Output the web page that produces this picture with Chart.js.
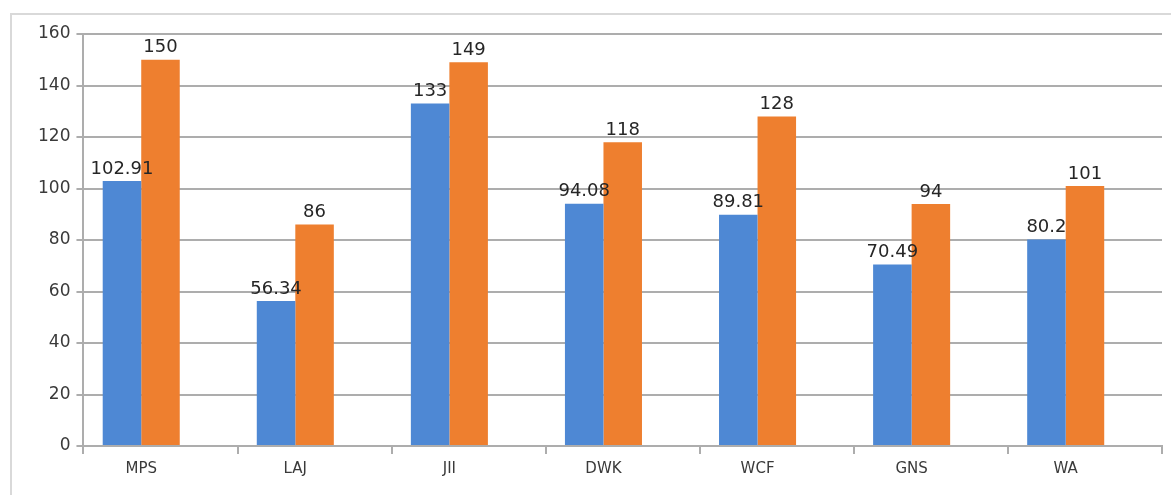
<!DOCTYPE html>
<html>
<head>
<meta charset="utf-8">
<title>Bar chart</title>
<script src="https://cdn.jsdelivr.net/npm/chart.js@4.4.1/dist/chart.umd.min.js"></script>
<style>
  html, body { margin: 0; padding: 0; background: #fff; }
  .frame {
    position: absolute; left: 10px; top: 13px; right: -4px; bottom: -4px;
    border-top: 2px solid #d9d9d9; border-left: 2px solid #d9d9d9;
  }
  .wrap { position: absolute; left: 0; top: 0; width: 1171px; height: 495px; }
</style>
</head>
<body>
<div class="frame"></div>
<div class="wrap"><canvas id="chart"></canvas></div>
<script>
/* ── Data ───────────────────────────────────────── */
const categories = ['MPS', 'LAJ', 'JII', 'DWK', 'WCF', 'GNS', 'WA'];
const blueValues   = [102.91, 56.34, 133, 94.08, 89.81, 70.49, 80.2];
const orangeValues = [150, 86, 149, 118, 128, 94, 101];
const yTicks = [0, 20, 40, 60, 80, 100, 120, 140, 160];

const BLUE   = '#4e88d4';
const ORANGE = '#ee7f2f';
const GRID   = '#adadad';
const TEXT   = '#3a3a3a';

/* x range on a linear axis so bar groups sit left of the category slot, as in the picture */
const X_MIN = -0.375;
const X_MAX = 6.625;

const toPoints = vals => vals.map((v, i) => ({ x: i, y: v }));

/* ── Value labels above bars ────────────────────── */
const valueLabels = {
  id: 'valueLabels',
  afterDatasetsDraw(chart) {
    const ctx = chart.ctx;
    ctx.save();
    ctx.font = '18px "DejaVu Sans"';
    ctx.fillStyle = '#262626';
    ctx.textAlign = 'center';
    ctx.textBaseline = 'bottom';
    chart.data.datasets.forEach((ds, di) => {
      chart.getDatasetMeta(di).data.forEach((bar, i) => {
        ctx.fillText(String(ds.data[i].y), bar.x, bar.y - 3);
      });
    });
    ctx.restore();
  }
};

/* ── Chart ──────────────────────────────────────── */
new Chart(document.getElementById('chart'), {
  type: 'bar',
  data: {
    datasets: [
      { data: toPoints(blueValues),   backgroundColor: BLUE,   borderWidth: 0,
        categoryPercentage: 0.5, barPercentage: 1 },
      { data: toPoints(orangeValues), backgroundColor: ORANGE, borderWidth: 0,
        categoryPercentage: 0.5, barPercentage: 1 }
    ]
  },
  options: {
    responsive: true,
    maintainAspectRatio: false,
    animation: false,
    layout: { padding: { left: 32, right: 9, top: 34, bottom: 11 } },
    plugins: { legend: { display: false }, tooltip: { enabled: false } },
    scales: {
      x: {
        type: 'linear',
        position: 'bottom',
        min: X_MIN, max: X_MAX,
        offset: false,
        weight: 1,
        grid: { display: false, drawTicks: false, offset: false },
        border: { display: false },
        afterBuildTicks: s => { s.ticks = categories.map((_, i) => ({ value: i })); },
        ticks: {
          autoSkip: false, maxRotation: 0, padding: 6,
          color: TEXT, font: { family: 'DejaVu Sans', size: 15 },
          callback: v => categories[v]
        }
      },
      x2: {
        type: 'linear',
        axis: 'x',
        position: 'bottom',
        min: X_MIN, max: X_MAX,
        offset: false,
        weight: 0,
        grid: { offset: false, drawOnChartArea: false, drawTicks: true, tickLength: 8, color: GRID, lineWidth: 2 },
        border: { display: true, color: GRID, width: 2 },
        afterBuildTicks: s => {
          s.ticks = [0, 1, 2, 3, 4, 5, 6, 7].map(k => ({ value: X_MIN + k }));
        },
        ticks: { display: false }
      },
      y: {
        min: 0, max: 160,
        afterBuildTicks: s => { s.ticks = yTicks.map(v => ({ value: v })); },
        grid: { color: GRID, lineWidth: 2, tickLength: 7 },
        border: { display: true, color: GRID, width: 2 },
        ticks: { color: TEXT, padding: 6, font: { family: 'DejaVu Sans', size: 17 } }
      }
    }
  },
  plugins: [valueLabels]
});
</script>
</body>
</html>
